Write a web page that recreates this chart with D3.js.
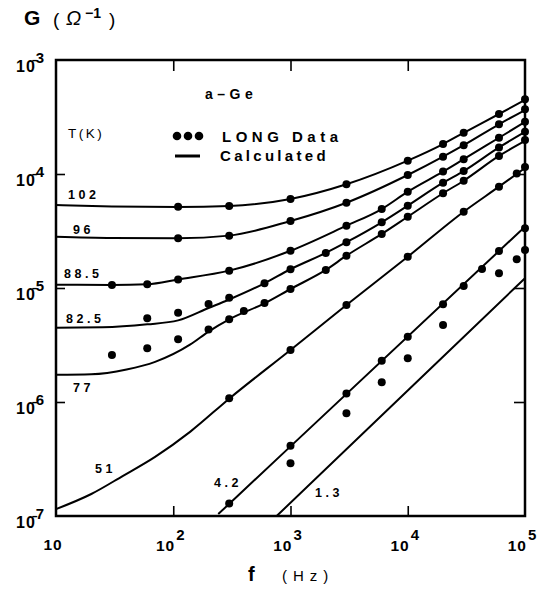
<!DOCTYPE html>
<html lang="en">
<head>
    <meta charset="UTF-8">
    <title>a-Ge conductance vs frequency</title>
    <script src="https://d3js.org/d3.v7.js"></script>
</head>
<body style="margin: 0; background: white">
<script>
    // temperatures (K) of each curve
    const temps = ["102", "96", "88.5", "82.5", "77", "51", "4.2", "1.3"];

    // calculated curves, [f (Hz), G (1/ohm)]
    const calc102 = [[10,5.35e-5],[30,5.2e-5],[110,5.14e-5],[300,5.24e-5],[1000,6.04e-5],[3000,8.13e-5],[1e4,1.31e-4],[2e4,1.83e-4],[3e4,2.30e-4],[6e4,3.36e-4],[1e5,4.46e-4]];
    const calc96 = [[10,2.82e-5],[30,2.75e-5],[110,2.73e-5],[300,2.88e-5],[1000,3.87e-5],[3000,5.60e-5],[1e4,9.80e-5],[2e4,1.42e-4],[3e4,1.79e-4],[6e4,2.73e-4],[1e5,3.64e-4]];
    const calc88 = [[10,1.07e-5],[30,1.065e-5],[60,1.08e-5],[110,1.19e-5],[300,1.42e-5],[1000,2.12e-5],[3000,3.52e-5],[6000,4.93e-5],[1e4,7.00e-5],[2e4,1.05e-4],[3e4,1.35e-4],[6e4,2.08e-4],[1e5,2.86e-4]];
    const calc82 = [[10,4.49e-6],[25,4.52e-6],[60,4.8e-6],[110,5.2e-6],[200,6.68e-6],[300,7.93e-6],[600,1.10e-5],[1000,1.46e-5],[2000,2.03e-5],[3000,2.52e-5],[6000,3.77e-5],[1e4,5.27e-5],[2e4,8.39e-5],[3e4,1.06e-4],[6e4,1.71e-4],[1e5,2.34e-4]];
    const calc77 = [[10,1.73e-6],[20,1.75e-6],[40,1.93e-6],[70,2.25e-6],[140,3.2e-6],[200,4.15e-6],[300,5.31e-6],[600,7.34e-6],[1000,9.8e-6],[2000,1.44e-5],[3000,1.92e-5],[6000,2.98e-5],[1e4,4.22e-5],[2e4,6.78e-5],[3e4,8.73e-5],[6e4,1.44e-4],[1e5,1.95e-4]];
    const calc51 = [[10,1.15e-7],[20,1.56e-7],[37,2.24e-7],[70,3.3e-7],[140,5.5e-7],[300,1.07e-6],[1000,2.86e-6],[3000,7.1e-6],[1e4,1.88e-5],[3e4,4.67e-5],[6e4,7.74e-5],[1e5,1.13e-4]];
    const calc4 = [[242,1.04e-7],[1000,4.08e-7],[1e5,3.45e-5]];
    const calc1 = [[762,1.0e-7],[1e4,1.26e-6],[1e5,1.22e-5]];

    // LONG data points
    const data102 = [[110,5.16e-5],[300,5.24e-5],[1000,6.04e-5],[3000,8.13e-5],[1e4,1.31e-4],[2e4,1.83e-4],[3e4,2.30e-4],[6e4,3.36e-4],[1e5,4.52e-4]];
    const data96 = [[110,2.73e-5],[300,2.88e-5],[1000,3.87e-5],[3000,5.60e-5],[1e4,9.80e-5],[2e4,1.42e-4],[3e4,1.79e-4],[6e4,2.73e-4],[1e5,3.70e-4]];
    const data88 = [[30,1.06e-5],[60,1.08e-5],[110,1.19e-5],[300,1.42e-5],[1000,2.12e-5],[3000,3.52e-5],[6000,4.93e-5],[1e4,7.00e-5],[2e4,1.05e-4],[3e4,1.35e-4],[6e4,2.08e-4],[1e5,2.88e-4]];
    const data82 = [[60,5.42e-6],[110,6.07e-6],[200,7.24e-6],[300,8.22e-6],[600,1.10e-5],[1000,1.46e-5],[2000,2.03e-5],[3000,2.52e-5],[6000,3.77e-5],[1e4,5.27e-5],[2e4,8.39e-5],[3e4,1.06e-4],[6e4,1.71e-4],[1e5,2.35e-4]];
    const data77 = [[30,2.58e-6],[60,2.96e-6],[110,3.55e-6],[200,4.33e-6],[300,5.31e-6],[400,6.28e-6],[600,7.38e-6],[1000,9.8e-6],[2000,1.44e-5],[3000,1.92e-5],[6000,2.98e-5],[1e4,4.22e-5],[2e4,6.78e-5],[3e4,8.73e-5],[6e4,1.44e-4],[1e5,1.99e-4]];
    const data51 = [[300,1.08e-6],[1000,2.86e-6],[3000,7.10e-6],[1e4,1.88e-5],[3e4,4.67e-5],[6e4,7.74e-5],[8.5e4,1.01e-4],[1e5,1.15e-4]];
    const data4 = [[300,1.29e-7],[1000,4.14e-7],[3000,1.19e-6],[6000,2.30e-6],[1e4,3.74e-6],[2e4,7.19e-6],[3e4,1.04e-5],[4.3e4,1.47e-5],[6e4,2.11e-5],[1e5,3.34e-5]];
    const data1 = [[1000,2.90e-7],[3000,7.96e-7],[6000,1.49e-6],[1e4,2.42e-6],[2e4,4.73e-6],[6e4,1.35e-5],[8.5e4,1.79e-5],[1e5,2.15e-5]];

    // axis ticks
    const xTicks = [10, 1e2, 1e3, 1e4, 1e5];
    const xExp = ["", "2", "3", "4", "5"];
    const yTicks = [1e-3, 1e-4, 1e-5, 1e-6, 1e-7];
    const yExp = ["3", "4", "5", "6", "7"];

    const calcs = [calc102, calc96, calc88, calc82, calc77, calc51, calc4, calc1];
    const datas = [data102, data96, data88, data82, data77, data51, data4, data1];

    const width = 546, height = 592;
    const margin = {left: 56, right: 525, top: 60, bottom: 516};
    const font = "'Liberation Sans', Arial, sans-serif";

    const svg = d3.select("body")
        .append("svg")
        .attr("width", width)
        .attr("height", height)
        .style("font-family", font)
        .style("font-weight", "bold");

    const x = d3.scaleLog().domain([10, 1e5]).range([margin.left, margin.right]);
    const y = d3.scaleLog().domain([1e-7, 1e-3]).range([margin.bottom, margin.top]);

    // inward ticks
    svg.append("g")
        .attr("transform", `translate(${margin.left},0)`)
        .call(d3.axisLeft(y).tickValues([1e-4, 1e-5, 1e-6]).tickSize(-9).tickFormat(""));
    svg.append("g")
        .attr("transform", `translate(${margin.right},0)`)
        .call(d3.axisRight(y).tickValues([1e-4, 1e-5, 1e-6]).tickSize(-11).tickFormat(""));
    svg.append("g")
        .attr("transform", `translate(0,${margin.top})`)
        .call(d3.axisTop(x).tickValues([1e2, 1e3, 1e4]).tickSize(-11).tickFormat(""));
    svg.append("g")
        .attr("transform", `translate(0,${margin.bottom})`)
        .call(d3.axisBottom(x).tickValues([1e2, 1e3, 1e4]).tickSize(-10).tickFormat(""));
    svg.selectAll(".domain").remove();
    svg.selectAll(".tick line").attr("stroke", "black").attr("stroke-width", 1.6);

    // calculated lines
    const line = d3.line()
        .x(d => x(d[0]))
        .y(d => y(d[1]))
        .curve(d3.curveMonotoneX);

    svg.append("g")
        .selectAll("path")
        .data(calcs)
        .join("path")
        .attr("d", line)
        .attr("fill", "none")
        .attr("stroke", "black")
        .attr("stroke-width", 2);

    // frame
    svg.append("rect")
        .attr("x", margin.left).attr("y", margin.top)
        .attr("width", margin.right - margin.left).attr("height", margin.bottom - margin.top)
        .attr("fill", "none")
        .attr("stroke", "black")
        .attr("stroke-width", 2.5);

    // data dots
    svg.append("g")
        .selectAll("circle")
        .data(datas.flat())
        .join("circle")
        .attr("cx", d => x(d[0]))
        .attr("cy", d => y(d[1]))
        .attr("r", 4)
        .attr("fill", "black");

    // temperature labels
    const labelPos = [[68,199],[73,234],[64,278],[66,323],[73,392],[95,473],[214,487],[315,497]];
    svg.append("g")
        .selectAll("text")
        .data(temps)
        .join("text")
        .attr("x", (d, i) => labelPos[i][0])
        .attr("y", (d, i) => labelPos[i][1])
        .attr("font-size", 12.5)
        .style("letter-spacing", "3.5px")
        .text(d => d);

    svg.append("text").attr("x", 68).attr("y", 138)
        .attr("font-size", 13.5).attr("font-weight", "normal")
        .style("letter-spacing", "2.5px").text("T(K)");

    svg.append("text").attr("x", 205).attr("y", 99)
        .attr("font-size", 14).style("letter-spacing", "4.5px").text("a–Ge");

    // legend
    svg.append("g")
        .selectAll("circle")
        .data([0, 1, 2])
        .join("circle")
        .attr("cx", d => 177 + d * 11)
        .attr("cy", 136)
        .attr("r", 4.3)
        .attr("fill", "black");
    svg.append("line")
        .attr("x1", 175).attr("x2", 200)
        .attr("y1", 156).attr("y2", 156)
        .attr("stroke", "black").attr("stroke-width", 3);
    svg.append("text").attr("x", 222).attr("y", 142)
        .attr("font-size", 15).style("letter-spacing", "4.5px").text("LONG Data");
    svg.append("text").attr("x", 220).attr("y", 161)
        .attr("font-size", 15).style("letter-spacing", "3.3px").text("Calculated");

    // y tick labels: 10 with a bar over the 0, then the exponent
    const yl = svg.append("g").selectAll("text")
        .data(yTicks)
        .join("text")
        .attr("x", 16)
        .attr("y", d => y(d) + 12);
    yl.append("tspan").attr("font-size", 16).style("letter-spacing", "1px").text("10\u0304");
    yl.append("tspan").attr("dx", 0).attr("dy", -9).attr("font-size", 15).text((d, i) => yExp[i]);

    // x tick labels
    const xl = svg.append("g").selectAll("g")
        .data(xTicks)
        .join("g")
        .attr("transform", d => `translate(${x(d)},0)`);
    xl.append("text")
        .attr("x", (d, i) => i === 0 ? -3 : 2)
        .attr("y", (d, i) => i === 0 ? 550 : 551)
        .attr("text-anchor", (d, i) => i === 0 ? "middle" : "end")
        .attr("font-size", 15.5).style("letter-spacing", "1px")
        .text("10");
    xl.append("text").attr("x", 3).attr("y", 540)
        .attr("font-size", 15).text((d, i) => xExp[i]);

    // axis titles
    svg.append("text").attr("x", 24).attr("y", 25).attr("font-size", 21).text("G");
    svg.append("text").attr("x", 53).attr("y", 26).attr("font-size", 19).attr("font-weight", "normal").text("(");
    svg.append("text").attr("x", 66).attr("y", 25).attr("font-size", 20)
        .attr("font-weight", "normal").attr("font-style", "italic").text("Ω");
    svg.append("text").attr("x", 85).attr("y", 18).attr("font-size", 14).text("−1");
    svg.append("text").attr("x", 109).attr("y", 26).attr("font-size", 19).attr("font-weight", "normal").text(")");

    svg.append("text").attr("x", 248).attr("y", 581).attr("font-size", 20).text("f");
    svg.append("text").attr("x", 282).attr("y", 581).attr("font-size", 15)
        .attr("font-weight", "normal").style("letter-spacing", "6px").text("(Hz)");
</script>
</body>
</html>
